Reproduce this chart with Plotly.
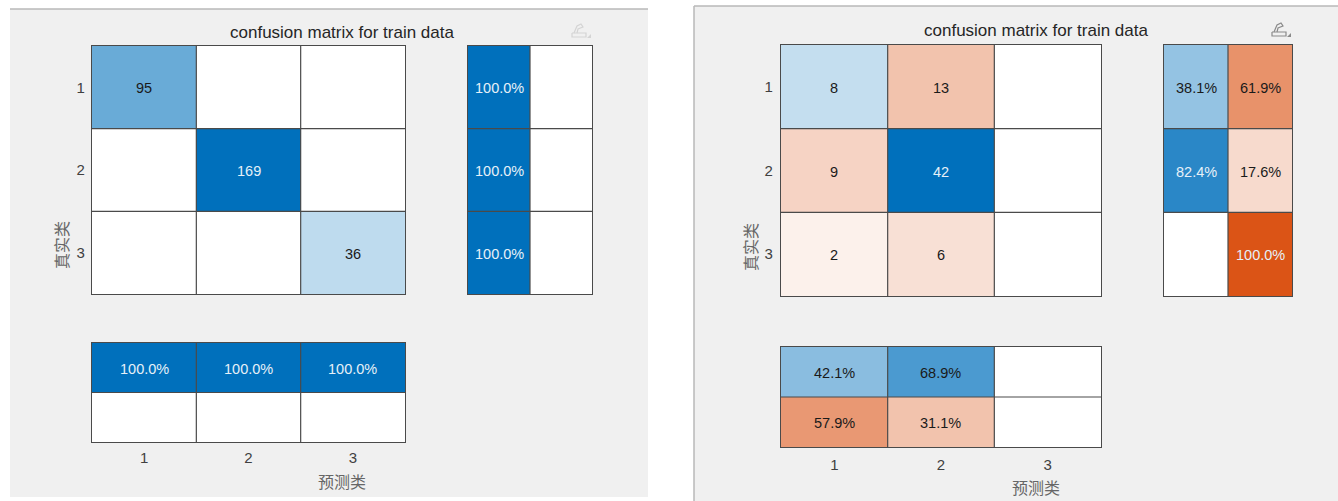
import plotly.graph_objects as go

W, H = 1338, 501
categories = [1, 2, 3]
pct_columns = [1, 2]
title_text = "confusion matrix for train data"
x_label = "预测类"
y_label = "真实类"

train_a_counts = [[95, 0, 0], [0, 169, 0], [0, 0, 36]]
train_a_row_pct = [[100.0, 0], [100.0, 0], [100.0, 0]]
train_a_col_pct = [[100.0, 100.0, 100.0], [0, 0, 0]]

train_b_counts = [[8, 13, 0], [9, 42, 0], [2, 6, 0]]
train_b_row_pct = [[38.1, 61.9], [82.4, 17.6], [0, 100.0]]
train_b_col_pct = [[42.1, 68.9, 0], [57.9, 31.1, 0]]

BLUE, ORANGE = (0, 112, 188), (219, 84, 22)
RAMP = [(0, 0), (.05, .09), (.15, .19), (.21, .25), (.31, .35), (.42, .46), (.62, .64), (.82, .83), (1, 1)]
GRID = "#4a4a4a"
BG = "#F0F0F0"
FONT = "Liberation Sans"
CJK = "Noto Sans CJK SC"
TICK = "#404040"


def mix(col, t):
    return "rgb(" + ",".join(str(round(255 + (c - 255) * t)) for c in col) + ")"


SCALE = [[(1 - p) / 2, mix(ORANGE, t)] for p, t in reversed(RAMP)] + [[(1 + p) / 2, mix(BLUE, t)] for p, t in RAMP[1:]]


def px(x):
    return x / W


def py(y):
    return 1 - y / H


fig = go.Figure()
shapes = []
annotations = []
axis_n = [0]


def panel(values, frac_by_row, xbox, ybox, xcats, ycats, col_sign, xticks, yticks, fmt, ticklen):
    axis_n[0] += 1
    n = axis_n[0]
    suffix = "" if n == 1 else str(n)
    xname, yname = f"x{suffix}", f"y{suffix}"
    z = []
    for r, row in enumerate(values):
        zr = []
        for c, v in enumerate(row):
            f = v / frac_by_row
            zr.append(col_sign(r, c) * f)
            if v:
                annotations.append(dict(x=xcats[c], y=ycats[r], xref=xname, yref=yname, text=fmt(v), showarrow=False,
                                        xanchor="center", yanchor="middle", yshift=-1,
                                        font=dict(family=FONT, size=14.5,
                                                  color="#E6F0F8" if f > 0.75 else "#1a1a1a")))
        z.append(zr)
    fig.add_trace(go.Heatmap(x=xcats, y=ycats, z=z, zmin=-1, zmax=1, colorscale=SCALE, showscale=False,
                             hoverinfo="skip", xaxis=xname, yaxis=yname))
    base = dict(showgrid=False, zeroline=False, showline=True, mirror=True, linecolor=GRID, linewidth=1.2,
                ticks="outside", ticklen=ticklen, tickcolor="rgba(0,0,0,0)",
                tickfont=dict(family=FONT, size=15, color=TICK))
    fig.layout[f"xaxis{suffix}"] = dict(base, domain=[px(xbox[0]), px(xbox[1])], anchor=yname,
                                        range=[xcats[0] - .5, xcats[-1] + .5], tickmode="array",
                                        tickvals=xcats, showticklabels=xticks)
    fig.layout[f"yaxis{suffix}"] = dict(base, domain=[py(ybox[1]), py(ybox[0])], anchor=xname,
                                        range=[ycats[-1] + .5, ycats[0] - .5], tickmode="array",
                                        tickvals=ycats, showticklabels=yticks)
    for v in xcats[:-1]:
        shapes.append(dict(type="line", xref=xname, yref=f"{yname} domain", x0=v + .5, x1=v + .5, y0=0, y1=1,
                           line=dict(color=GRID, width=1.2)))
    for v in ycats[:-1]:
        shapes.append(dict(type="line", xref=f"{xname} domain", yref=yname, x0=0, x1=1, y0=v + .5, y1=v + .5,
                           line=dict(color=GRID, width=1.2)))


def diag_sign(r, c):
    return 1 if r == c else -1


def row_sign(r, c):
    return 1 if c == 0 else -1


def col_sign(r, c):
    return 1 if r == 0 else -1


def count_fmt(v):
    return str(v)


def pct_fmt(v):
    return f"{v:.1f}%"


def figure_block(counts, row_pct, col_pct, main_x, main_y, side_x, bottom_y, bg, icon_color, title_xy, xlab_xy, ylab_xy, tl):
    shapes.append(dict(type="rect", xref="paper", yref="paper", x0=px(bg[0]), x1=px(bg[1]), y0=py(bg[3]), y1=py(bg[2]),
                       fillcolor=BG, line=dict(width=0), layer="below"))
    shapes.append(dict(type="line", xref="paper", yref="paper", x0=px(bg[0]), x1=px(bg[1]), y0=py(bg[2]), y1=py(bg[2]),
                       line=dict(color="#b8b8b8", width=1.5), layer="below"))
    panel(counts, max(max(r) for r in counts), main_x, main_y, categories, categories, diag_sign, False, True, count_fmt, tl[0])
    panel(row_pct, 100.0, side_x, main_y, pct_columns, categories, row_sign, False, False, pct_fmt, tl[0])
    panel(col_pct, 100.0, main_x, bottom_y, categories, pct_columns, col_sign, True, False, pct_fmt, tl[1])
    common = dict(xref="paper", yref="paper", showarrow=False, xanchor="center", yanchor="middle")
    annotations.append(dict(common, text=title_text, x=px(title_xy[0]), y=py(title_xy[1]),
                            font=dict(family=FONT, size=17, color="#262626")))
    annotations.append(dict(common, text=x_label, x=px(xlab_xy[0]), y=py(xlab_xy[1]),
                            font=dict(family=CJK, size=16, color="#666666")))
    annotations.append(dict(common, text=y_label, x=px(ylab_xy[0]), y=py(ylab_xy[1]), textangle=-90,
                            font=dict(family=CJK, size=16, color="#666666")))
    # toolbar pencil icon
    ix, iy = side_x[1] - 20, main_y[0] - 14
    pts = [[(ix, iy + 1), (ix, iy + 5), (ix + 14, iy + 5), (ix + 14, iy + 1), (ix, iy + 1)],
           [(ix + 2, iy + 1), (ix + 5, iy - 6), (ix + 9, iy - 8), (ix + 11, iy - 5), (ix + 6, iy - 3), (ix + 5, iy + 1)]]
    for poly in pts:
        path = "M " + " L ".join(f"{px(a):.5f},{py(b):.5f}" for a, b in poly)
        shapes.append(dict(type="path", xref="paper", yref="paper", path=path, line=dict(color=icon_color, width=1.2)))
    tri = f"M {px(ix+15):.5f},{py(iy+6):.5f} L {px(ix+19):.5f},{py(iy+6):.5f} L {px(ix+19):.5f},{py(iy+2):.5f} Z"
    shapes.append(dict(type="path", xref="paper", yref="paper", path=tri, fillcolor=icon_color, line=dict(width=0)))


figure_block(train_a_counts, train_a_row_pct, train_a_col_pct,
             (92, 405), (46, 294), (468, 592), (343, 442), (10, 648, 9, 497), "#d4d4d4",
             (342, 33), (342, 481), (61, 245), (3, 2))
figure_block(train_b_counts, train_b_row_pct, train_b_col_pct,
             (781, 1101), (45, 296), (1164, 1292), (347, 447), (694, 1338, 6, 501), "#8a8a8a",
             (1036, 31), (1036, 487), (750, 247), (4, 4))
shapes.append(dict(type="line", xref="paper", yref="paper", x0=px(694), x1=px(694), y0=py(6), y1=py(501),
                   line=dict(color="#b8b8b8", width=1.5), layer="below"))

fig.update_layout(width=W, height=H, margin=dict(l=0, r=0, t=0, b=0), paper_bgcolor="#FFFFFF",
                  plot_bgcolor="#FFFFFF", showlegend=False, shapes=shapes, annotations=annotations)
fig.write_html("out.html", config=dict(displayModeBar=False),
               post_script="document.body.style.margin='0';document.documentElement.style.overflow='hidden';")
